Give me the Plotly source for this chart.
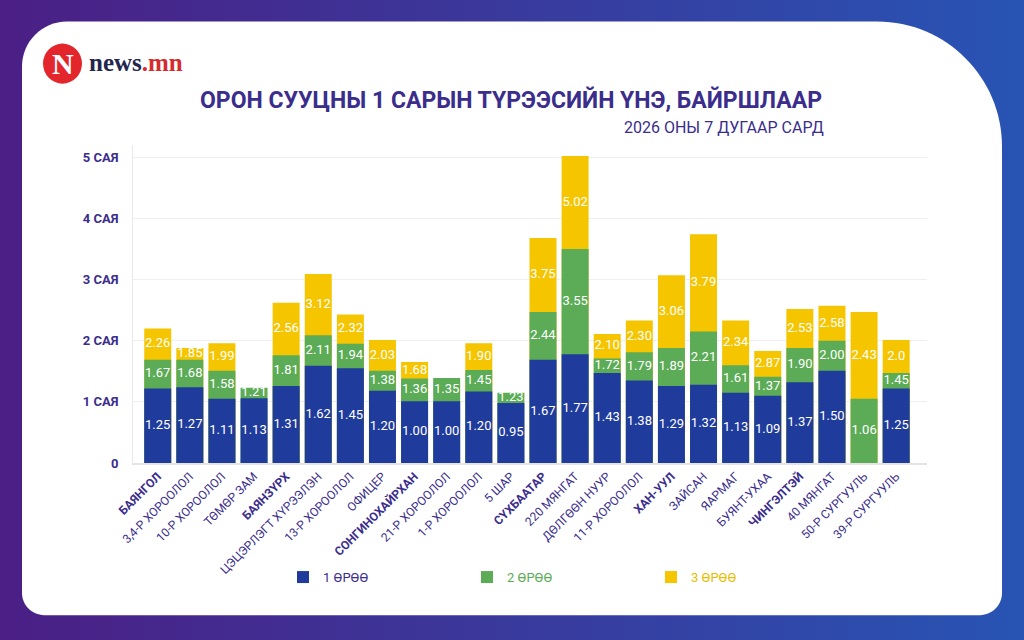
import plotly.graph_objects as go

# districts, in the order of the chart (bold ones are the main districts)
districts = ["БАЯНГОЛ", "3,4-Р ХОРООЛОЛ", "10-Р ХОРООЛОЛ", "ТӨМӨР ЗАМ", "БАЯНЗҮРХ",
             "ЦЭЦЭРЛЭГТ ХҮРЭЭЛЭН", "13-Р ХОРООЛОЛ", "ОФИЦЕР", "СОНГИНОХАЙРХАН",
             "21-Р ХОРООЛОЛ", "1-Р ХОРООЛОЛ", "5 ШАР", "СҮХБААТАР", "220 МЯНГАТ",
             "ДӨЛГӨӨН НУУР", "11-Р ХОРООЛОЛ", "ХАН-УУЛ", "ЗАЙСАН", "ЯАРМАГ",
             "БУЯНТ-УХАА", "ЧИНГЭЛТЭЙ", "40 МЯНГАТ", "50-Р СУРГУУЛЬ", "39-Р СУРГУУЛЬ"]
main_districts = ["БАЯНГОЛ", "БАЯНЗҮРХ", "СОНГИНОХАЙРХАН", "СҮХБААТАР", "ХАН-УУЛ", "ЧИНГЭЛТЭЙ"]

# bar heights as drawn (million MNT)
room1 = [1.22, 1.24, 1.05, 1.06, 1.26, 1.59, 1.55, 1.18, 1.01, 1.01, 1.17, 0.98,
         1.69, 1.78, 1.47, 1.35, 1.26, 1.28, 1.15, 1.10, 1.32, 1.51, None, 1.22]
room2 = [1.69, 1.69, 1.51, 1.23, 1.76, 2.09, 1.95, 1.51, 1.38, 1.39, 1.52, 1.15,
         2.47, 3.50, 1.71, 1.81, 1.88, 2.15, 1.60, 1.41, 1.88, 2.00, 1.05, 1.47]
room3 = [2.20, 1.88, 1.96, None, 2.62, 3.09, 2.43, 2.01, 1.65, None, 1.96, None,
         3.68, 5.02, 2.11, 2.33, 3.07, 3.74, 2.33, 1.83, 2.52, 2.57, 2.47, 2.01]

# value labels as printed on the bars
room1_txt = ["1.25", "1.27", "1.11", "1.13", "1.31", "1.62", "1.45", "1.20", "1.00", "1.00", "1.20", "0.95",
             "1.67", "1.77", "1.43", "1.38", "1.29", "1.32", "1.13", "1.09", "1.37", "1.50", "", "1.25"]
room2_txt = ["1.67", "1.68", "1.58", "1.21", "1.81", "2.11", "1.94", "1.38", "1.36", "1.35", "1.45", "1.23",
             "2.44", "3.55", "1.72", "1.79", "1.89", "2.21", "1.61", "1.37", "1.90", "2.00", "1.06", "1.45"]
room3_txt = ["2.26", "1.85", "1.99", "", "2.56", "3.12", "2.32", "2.03", "1.68", "", "1.90", "",
             "3.75", "5.02", "2.10", "2.30", "3.06", "3.79", "2.34", "2.87", "2.53", "2.58", "2.43", "2.0"]

y_ticks = [0, 1, 2, 3, 4, 5]
y_ticktext = ["0", "1 САЯ", "2 САЯ", "3 САЯ", "4 САЯ", "5 САЯ"]

BLUE = "#1f3b9c"
GREEN = "#5cab56"
YELLOW = "#f5c500"
INK = "#3a2d8c"

# plot area in pixels
L, R, T, B = 133, 927, 145.3, 463
W, H = R - L, B - T


def px_x(p):
    return (p - L) / W


def px_y(p):
    return (B - p) / H


def mids(lower, upper):
    out = []
    for lo, up in zip(lower, upper):
        if up is None:
            out.append(None)
        else:
            out.append(((lo or 0) + up) / 2)
    return out


fig = go.Figure()

# overlaid bars: 3 rooms at the back, 1 room at the front
for name, vals, col, txtcol in [("3 ӨРӨӨ", room3, YELLOW, "#e8bd00"),
                                ("2 ӨРӨӨ", room2, GREEN, GREEN),
                                ("1 ӨРӨӨ", room1, BLUE, INK)]:
    fig.add_trace(go.Bar(
        x=districts, y=vals,
        name=f"<span style='color:{txtcol}'>{name}</span>",
        marker=dict(color=col, line=dict(width=0)),
        hoverinfo="x+y",
    ))

# labels centred in the visible part of each bar
label_sets = [
    (mids([None] * len(room1), room1), room1_txt),
    (mids(room1, room2), room2_txt),
    (mids(room2, room3), room3_txt),
]
for ys, txt in label_sets:
    fig.add_trace(go.Scatter(
        x=districts, y=ys, text=txt, mode="text",
        textfont=dict(family="Roboto", size=13, color="white"),
        showlegend=False, hoverinfo="skip", cliponaxis=False,
    ))

# gradient background in stripes
shapes = []
n = 64
c0 = (0x4b, 0x1f, 0x85)
c1 = (0x28, 0x54, 0xb4)
for i in range(n):
    t = i / (n - 1)
    c = tuple(round(a + (b - a) * t) for a, b in zip(c0, c1))
    shapes.append(dict(
        type="rect", xref="paper", yref="paper", layer="below",
        x0=px_x(1024 * i / n), x1=px_x(1024 * (i + 1) / n + 1),
        y0=px_y(0), y1=px_y(640),
        fillcolor="rgb(%d,%d,%d)" % c, line=dict(width=0),
    ))

# white card with rounded corners
cl, ct, cr, cb = 22, 22, 1002, 615
r_tl, r_tr, r_br, r_bl = 45, 125, 22, 22
k = 0.5523


def P(x, y):
    return "%.5f,%.5f" % (px_x(x), px_y(y))


path = ("M" + P(cl + r_tl, ct)
        + " L" + P(cr - r_tr, ct)
        + " C" + P(cr - r_tr + k * r_tr, ct) + " " + P(cr, ct + r_tr - k * r_tr) + " " + P(cr, ct + r_tr)
        + " L" + P(cr, cb - r_br)
        + " C" + P(cr, cb - r_br + k * r_br) + " " + P(cr - r_br + k * r_br, cb) + " " + P(cr - r_br, cb)
        + " L" + P(cl + r_bl, cb)
        + " C" + P(cl + r_bl - k * r_bl, cb) + " " + P(cl, cb - r_bl + k * r_bl) + " " + P(cl, cb - r_bl)
        + " L" + P(cl, ct + r_tl)
        + " C" + P(cl, ct + r_tl - k * r_tl) + " " + P(cl + r_tl - k * r_tl, ct) + " " + P(cl + r_tl, ct)
        + " Z")
shapes.append(dict(type="path", xref="paper", yref="paper", layer="below",
                   path=path, fillcolor="white", line=dict(width=0)))

# logo circle
shapes.append(dict(type="circle", xref="paper", yref="paper",
                   x0=px_x(43), x1=px_x(82), y0=px_y(44), y1=px_y(84),
                   fillcolor="#e3262c", line=dict(width=0)))

annotations = [
    dict(text="<b>N</b>", x=px_x(62.5), y=px_y(64), xref="paper", yref="paper",
         showarrow=False, font=dict(family="Liberation Serif", size=30, color="white"),
         xanchor="center", yanchor="middle"),
    dict(text="<b>news<span style='color:#d52b2f'>.mn</span></b>", x=px_x(87), y=px_y(63),
         xref="paper", yref="paper", showarrow=False,
         font=dict(family="Liberation Serif", size=25, color="#23264f"),
         xanchor="left", yanchor="middle"),
    dict(text="<b>ОРОН СУУЦНЫ 1 САРЫН ТҮРЭЭСИЙН ҮНЭ, БАЙРШЛААР</b>", x=px_x(511), y=px_y(100),
         xref="paper", yref="paper", showarrow=False,
         font=dict(family="Roboto", size=23, color=INK),
         xanchor="center", yanchor="middle"),
    dict(text="2026 ОНЫ 7 ДУГААР САРД", x=px_x(826), y=px_y(128),
         xref="paper", yref="paper", showarrow=False,
         font=dict(family="Roboto", size=16, color=INK),
         xanchor="right", yanchor="middle"),
]

tick_labels = [f"<b>{d}</b>" if d in main_districts else d for d in districts]

fig.update_layout(
    width=1024, height=640,
    margin=dict(l=L, r=1024 - R, t=T, b=640 - B, pad=0),
    paper_bgcolor="white", plot_bgcolor="rgba(0,0,0,0)",
    barmode="overlay", bargap=0.16,
    shapes=shapes, annotations=annotations,
    showlegend=True,
    legend=dict(orientation="h", x=px_x(283), y=px_y(577), xanchor="left", yanchor="middle",
                traceorder="reversed", entrywidth=139, entrywidthmode="pixels",
                font=dict(family="Roboto", size=13, color=INK), bgcolor="rgba(0,0,0,0)"),
    font=dict(family="Roboto", color=INK),
)

fig.update_xaxes(
    type="category", range=[-0.77, 23.96],
    tickvals=districts, ticktext=tick_labels, tickangle=-45,
    tickfont=dict(family="Roboto", size=12, color=INK),
    showline=True, linecolor="#e4e4e4", linewidth=1.5,
    showgrid=False, ticks="", fixedrange=True,
)
fig.update_yaxes(
    range=[0, 5.2], tickvals=y_ticks, ticktext=y_ticktext,
    tickfont=dict(family="Roboto", size=13, color=INK, weight="bold"),
    showgrid=True, gridcolor="#efefef", gridwidth=1,
    showline=True, linecolor="#e8e8e8", zeroline=False,
    ticks="", ticklabelstandoff=11, fixedrange=True,
)

# drop the page margin so the figure fills the window
fig.write_html("out.html", config={"displayModeBar": False},
               post_script="document.body.style.margin='0';")
